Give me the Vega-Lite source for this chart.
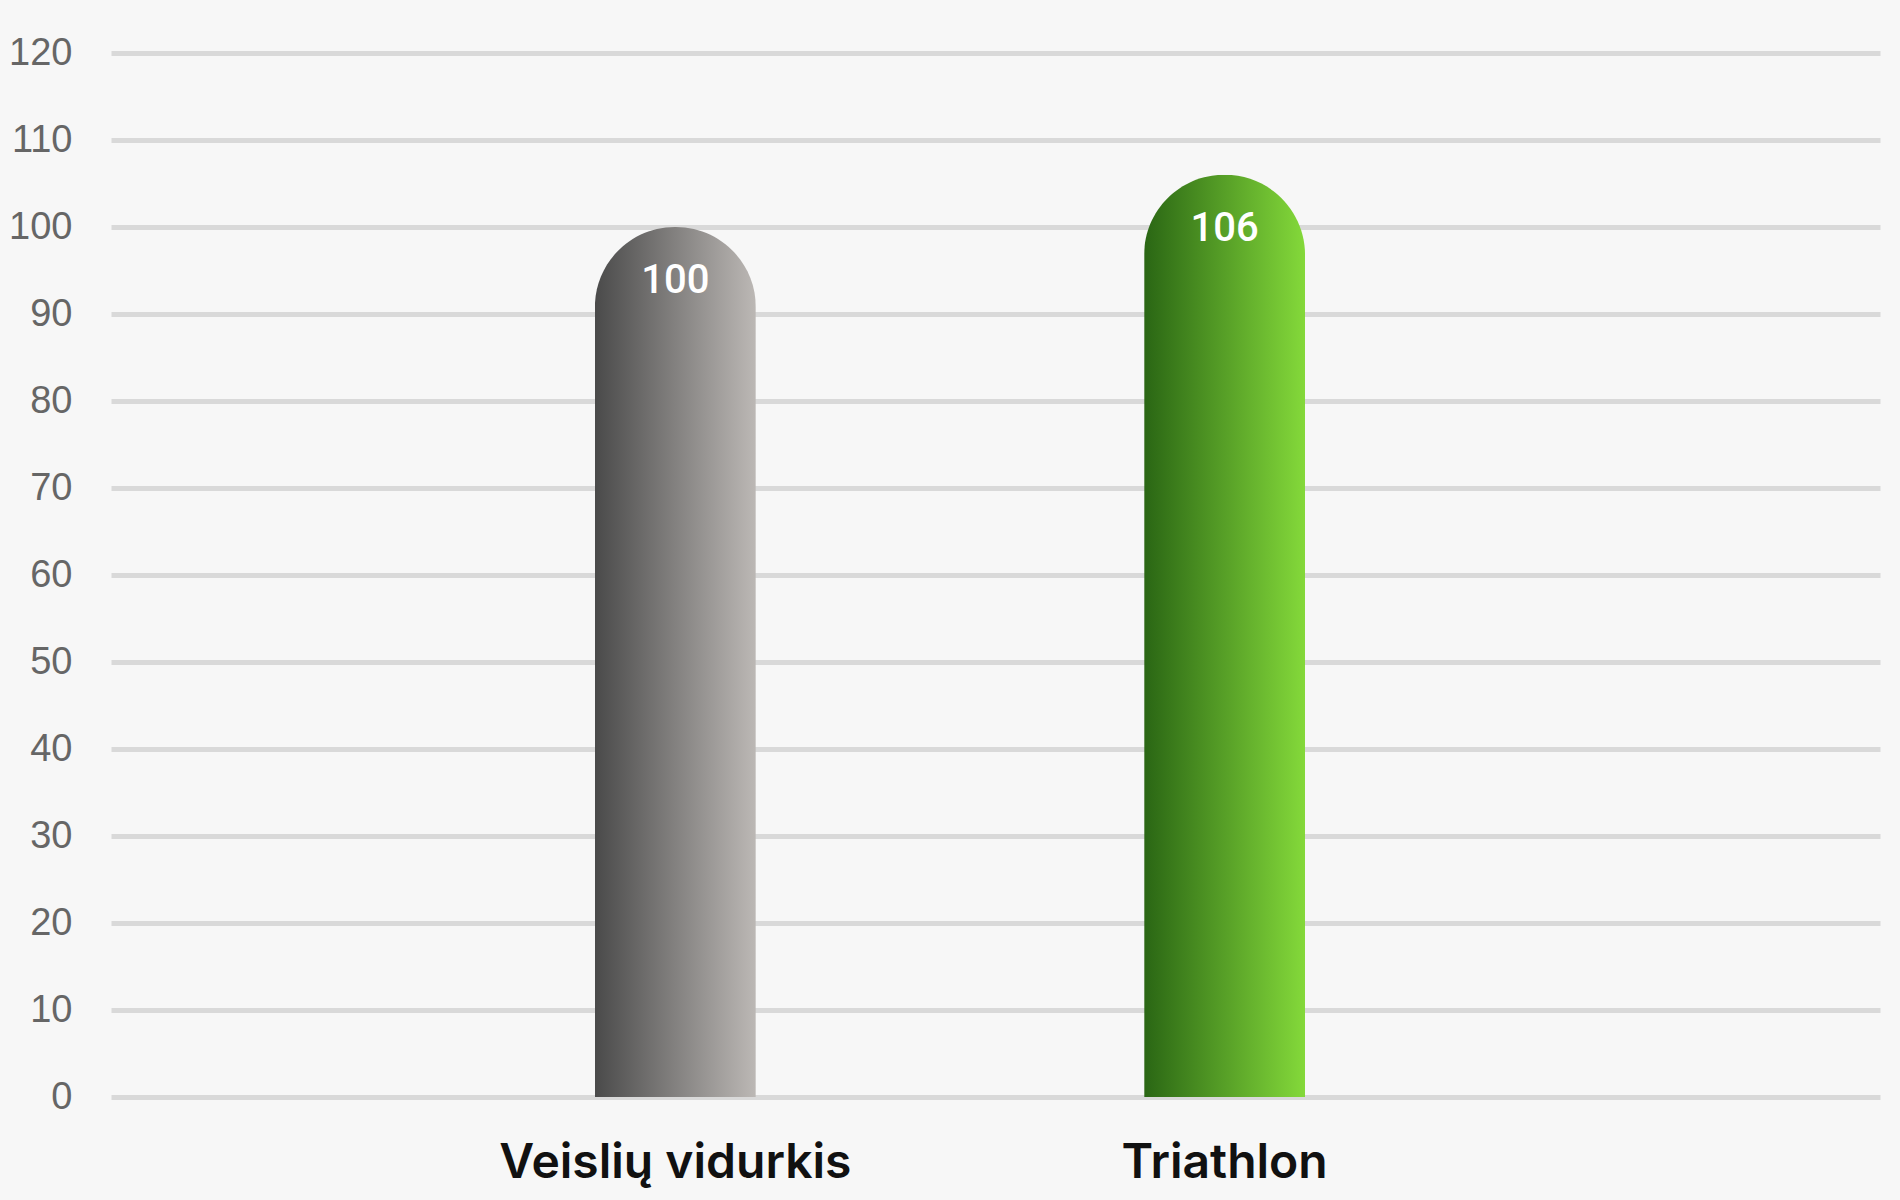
{
  "$schema": "https://vega.github.io/schema/vega-lite/v6.json",
  "autosize": {"type": "none"},
  "padding": {"left": 111, "top": 53, "right": 20, "bottom": 103},
  "width": 1769,
  "height": 1044,
  "background": "#f7f7f7",
  "data": {
    "values": [
      {"category": "Veislių vidurkis", "value": 100},
      {"category": "Triathlon", "value": 106}
    ]
  },
  "encoding": {
    "x": {
      "field": "category",
      "type": "nominal",
      "sort": null,
      "scale": {"paddingInner": 0.707, "paddingOuter": 0.964, "align": 0.457},
      "axis": {
        "title": null,
        "labelAngle": 0,
        "labelLimit": 0,
        "ticks": false,
        "domain": false,
        "labelFont": "Inter",
        "labelFontWeight": 600,
        "labelFontSize": 48,
        "labelColor": "#111111",
        "labelPadding": 42
      }
    },
    "y": {
      "field": "value",
      "type": "quantitative",
      "scale": {"domain": [0, 120], "nice": false},
      "axis": {
        "title": null,
        "values": [0, 10, 20, 30, 40, 50, 60, 70, 80, 90, 100, 110, 120],
        "ticks": false,
        "domain": false,
        "grid": true,
        "gridColor": "#d9d9d9",
        "gridWidth": 5,
        "labelFont": "Liberation Sans",
        "labelFontSize": 38,
        "labelColor": "#666666",
        "labelPadding": 39
      }
    }
  },
  "layer": [
    {
      "mark": {
        "type": "bar",
        "cornerRadiusTopLeft": 80,
        "cornerRadiusTopRight": 80
      },
      "encoding": {
        "color": {
          "condition": {
            "test": "datum.category === 'Triathlon'",
            "value": {
              "gradient": "linear",
              "x1": 0, "x2": 1, "y1": 0, "y2": 0,
              "stops": [
                {"offset": 0, "color": "#2a6614"},
                {"offset": 1, "color": "#84d93a"}
              ]
            }
          },
          "value": {
            "gradient": "linear",
            "x1": 0, "x2": 1, "y1": 0, "y2": 0,
            "stops": [
              {"offset": 0, "color": "#4a4a4a"},
              {"offset": 1, "color": "#bcb8b5"}
            ]
          }
        }
      }
    },
    {
      "mark": {
        "type": "text",
        "font": "Roboto",
        "fontWeight": 500,
        "fontSize": 40,
        "color": "#ffffff",
        "baseline": "alphabetic",
        "dy": 66
      },
      "encoding": {
        "text": {"field": "value", "type": "quantitative"}
      }
    }
  ],
  "config": {
    "view": {"stroke": null}
  }
}
